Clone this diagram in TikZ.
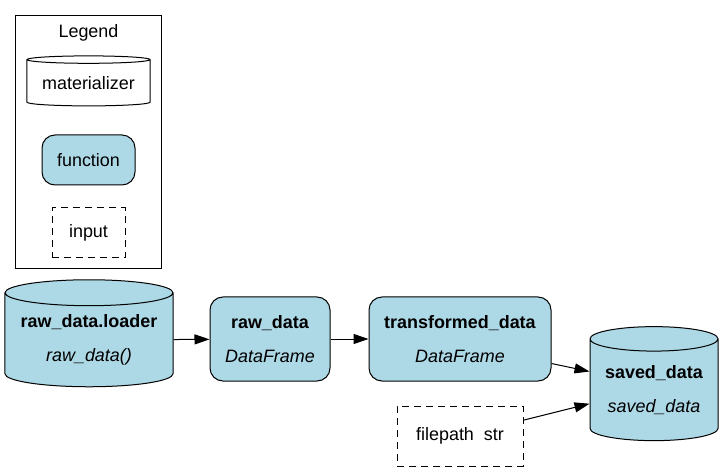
\documentclass[tikz,border=0pt]{standalone}
\usepackage{fontspec}
\setmainfont{Liberation Sans}
\usetikzlibrary{shapes.geometric,arrows.meta}
\definecolor{fnblue}{HTML}{ADD8E6}
\tikzset{
  fn/.style={draw, fill=fnblue, rounded corners=13bp, align=center, inner sep=0pt},
  mat/.style={draw, cylinder, shape border rotate=90, align=center, inner sep=0pt},
  inp/.style={draw, dashed, dash pattern=on 7bp off 5bp, align=center, inner sep=0pt},
  edge/.style={-{Triangle[length=15bp,width=10bp]}}
}
\begin{document}
\begin{tikzpicture}[x=1bp, y=-1bp, line width=1bp,
    font=\fontsize{18}{21}\selectfont]
    \useasboundingbox (0,0) rectangle (722,471);
    %% legend
    \node [draw, minimum width=145bp, minimum height=252bp] (legend) at (88.5,142) {};
    \node (ltitle) at (88.5,33) {Legend};
    \node [mat, aspect=0.08, minimum width=123bp, minimum height=50bp] (lmat) at (88.5,83) {materializer};
    \node [fn, minimum width=93bp, minimum height=50bp] (lfn) at (88.5,160) {function};
    \node [inp, minimum width=73bp, minimum height=50bp] (linp) at (88.5,233) {input};

    %% graph
    \node [mat, fill=fnblue, aspect=0.19, minimum width=168bp, minimum height=107bp] (loader) at (89,340)
      {\textbf{raw\_data.loader}\\[13bp] \textit{raw\_data()}};
    \node [fn, minimum width=120bp, minimum height=84bp] (raw) at (270,339)
      {\textbf{raw\_data}\\[13bp] \textit{DataFrame}};
    \node [fn, minimum width=182bp, minimum height=84bp] (tfd) at (460,339)
      {\textbf{transformed\_data}\\[13bp] \textit{DataFrame}};
    \node [mat, fill=fnblue, aspect=0.25, minimum width=128bp, minimum height=114bp] (saved) at (654,390)
      {\textbf{saved\_data}\\[13bp] \textit{saved\_data}};
    \node [inp, minimum width=126bp, minimum height=60bp] (fp) at (460,436) {filepath\ \ str};

    \draw [edge] (loader) -- (raw);
    \draw [edge] (raw) -- (tfd);
    \draw [edge] (tfd.-15) -- (saved.164);
    \draw [edge] (fp.14) -- (saved.192);
\end{tikzpicture}
\end{document}
